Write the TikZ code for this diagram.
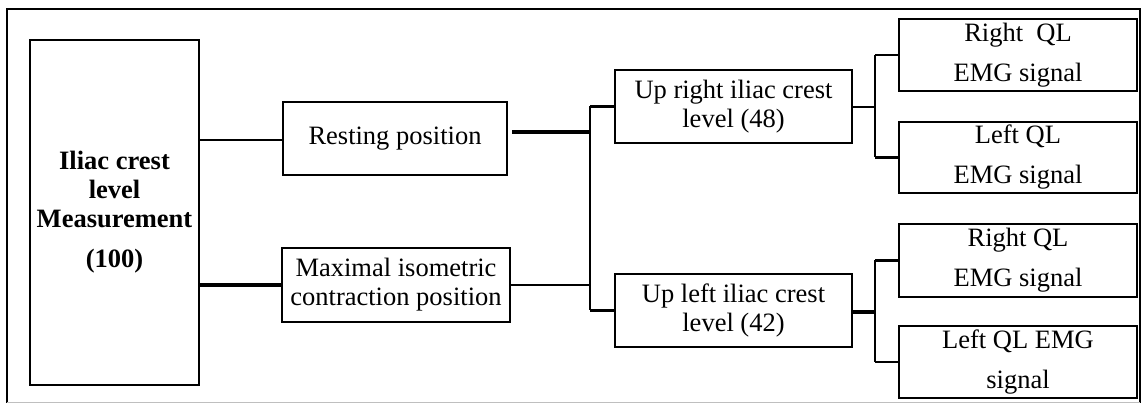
\documentclass[tikz,border=0pt]{standalone}
\usepackage{fontspec}
\setmainfont{Liberation Serif}
\begin{document}
\begin{tikzpicture}[x=1pt,y=-1pt,
  box/.style={draw, line width=2.7pt, inner sep=0pt, align=center,
    font=\fontsize{26.5}{29}\selectfont},
  link/.style={line width=2.2pt},
  boldlink/.style={line width=3.2pt}]
\useasboundingbox (0,0) rectangle (1144,403);
% outer frame
\draw[line width=2.6pt] (7,403) -- (7,9) -- (1140,9) -- (1140,403);
\draw[line width=1pt, black!25] (7,402.5) -- (1140,402.5);

% boxes
\node[box, minimum width=169pt, minimum height=345pt, font=\fontsize{26.5}{29}\selectfont\bfseries]
  (main) at (114.5,212.5) {Iliac crest\\level\\Measurement\\[11pt](100)};
\node[box, minimum width=224pt, minimum height=73pt] (rest) at (395,138.5) {Resting position};
\node[box, minimum width=228pt, minimum height=74pt] (maxi) at (396,285)
  {Maximal isometric\\contraction position};
\node[box, minimum width=237pt, minimum height=73pt] (upr) at (733.5,106.5)
  {Up right iliac crest\\level (48)};
\node[box, minimum width=237pt, minimum height=73pt] (upl) at (733.5,310.5)
  {Up left iliac crest\\level (42)};
\tikzset{sig/.style={box, minimum width=238pt, font=\fontsize{26.5}{40}\selectfont}}
\node[sig, minimum height=72pt] (r1) at (1018,55) {Right\ \ QL\\EMG signal};
\node[sig, minimum height=71pt] (r2) at (1018,157.5) {Left QL\\EMG signal};
\node[sig, minimum height=73pt] (r3) at (1018,260.5) {Right QL\\EMG signal};
\node[sig, minimum height=72pt] (r4) at (1018,362) {Left QL EMG\\signal};

% junction points
\coordinate (ja) at (590,132);
\coordinate (jb) at (875,107);
\coordinate (jc) at (875,312);

% first level
\draw[link] (main.east |- 0,140) -- (rest.west |- 0,140);
\draw[boldlink] (main.east |- maxi.west) -- (maxi.west);

% second level
\draw[boldlink] ([xshift=4pt]rest.east |- ja) -- (ja);
\draw[link] (maxi.east) -- (maxi.east -| ja);
\draw[link] (upr.west -| ja) -- (upl.west -| ja);
\draw[link] (upr.west -| ja) -- (upr.west);
\draw[link] (upl.west -| ja) -- (upl.west);

% third level, upper group
\draw[link] (upr.east |- jb) -- (jb);
\draw[link] (r1.west -| jb) -- (r2.west -| jb);
\draw[link] (r1.west -| jb) -- (r1.west);
\draw[link] (r2.west -| jb) -- (r2.west);

% third level, lower group
\draw[boldlink] (upl.east |- jc) -- (jc);
\draw[link] (r3.west -| jc) -- (r4.west -| jc);
\draw[link] (r3.west -| jc) -- (r3.west);
\draw[link] (r4.west -| jc) -- (r4.west);
\end{tikzpicture}
\end{document}
